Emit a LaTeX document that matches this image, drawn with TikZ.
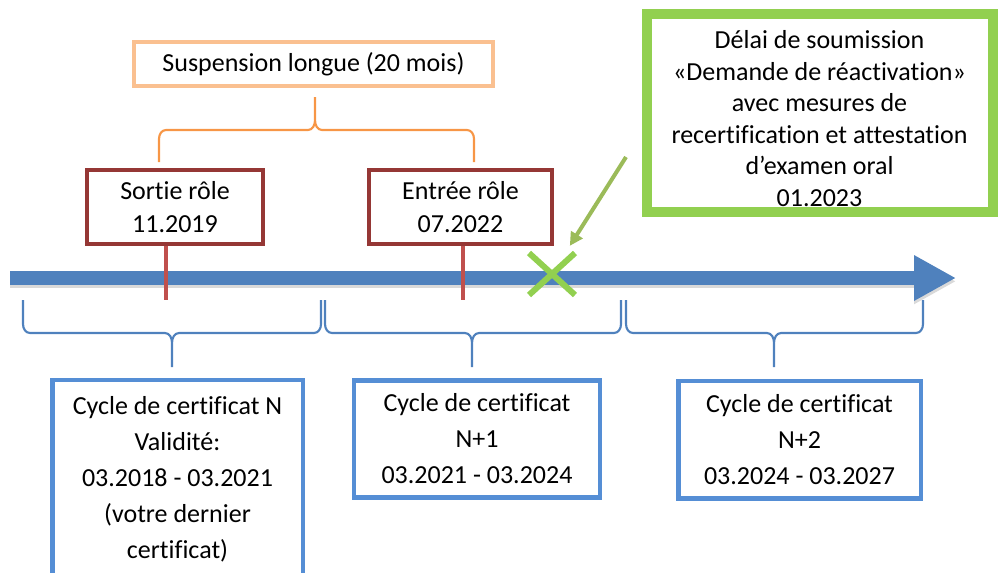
\documentclass[tikz,border=0pt]{standalone}
\usepackage{fontspec}
\setmainfont{Carlito}[Ligatures=NoCommon]
\usetikzlibrary{arrows.meta,positioning}

\definecolor{tlblue}{HTML}{4F81BD}
\definecolor{boxblue}{HTML}{558ED5}
\definecolor{tickred}{HTML}{C0504D}
\definecolor{boxred}{HTML}{953735}
\definecolor{boxorange}{HTML}{FAC090}
\definecolor{braceorange}{HTML}{F79646}
\definecolor{boxgreen}{HTML}{92D050}
\definecolor{arrowgreen}{HTML}{9BBB59}

\begin{document}
\begin{tikzpicture}[
x=0.75pt,
y=-0.75pt,
redbox/.style={
  draw=boxred,
  line width=3pt,
  align=center,
  inner sep=0pt,
  minimum height=55.5pt,
  font=\fontsize{19.5}{24.75}\selectfont
  },
bluebox/.style={
  draw=boxblue,
  line width=3.5pt,
  align=center,
  inner sep=0pt,
  font=\fontsize{19.5}{27}\selectfont
  },
orangebox/.style={
  draw=boxorange,
  line width=3pt,
  inner sep=0pt,
  minimum width=269pt,
  minimum height=33pt,
  font=\fontsize{19.5}{24}\selectfont
  },
greenbox/.style={
  draw=boxgreen,
  line width=7.5pt,
  align=center,
  inner sep=0pt,
  minimum width=259.5pt,
  minimum height=148.5pt,
  font=\fontsize{19.5}{23.7}\selectfont
  },
timeline/.style={
  draw=tlblue,
  line width=10.5pt,
  -{Triangle[length=31.5pt,width=32pt]}
  },
tickmark/.style={
  draw=tickred,
  line width=3pt
  },
crossmark/.style={
  draw=boxgreen,
  line width=4.5pt
  },
pointer/.style={
  draw=arrowgreen,
  line width=3pt,
  -{Triangle[length=10pt,width=10pt]}
  },
bluebrace/.style={
  draw=tlblue,
  line width=1.6pt
  },
orangebrace/.style={
  draw=braceorange,
  line width=1.6pt
  }
]
\useasboundingbox (0,0) rectangle (998,572);

% boxes
\node[orangebox] (suspension) at (313.5,64) {Suspension longue (20 mois)};
\node[redbox, minimum width=132pt] (sortie) at (175,207) {Sortie rôle\\11.2019};
\node[redbox, minimum width=137pt] (entree) at (460.5,207) {Entrée rôle\\07.2022};
\node[greenbox] (delai) at (819.5,112.5)
  {\rule{0pt}{22.6pt}Délai de soumission\\«Demande de réactivation»\\avec mesures de\\recertification et attestation\\d’examen oral\\01.2023};
\node[bluebox, minimum width=188pt, minimum height=148.5pt] (cycleN) at (177.5,479)
  {Cycle de certificat N\\Validité:\\03.2018 - 03.2021\\(votre dernier\\certificat)};
\node[bluebox, minimum width=184.5pt, minimum height=88pt] (cycleN1) at (477,439)
  {Cycle de certificat\\N+1\\03.2021 - 03.2024};
\node[bluebox, minimum width=182pt, minimum height=88pt] (cycleN2) at (799.5,439.5)
  {Cycle de certificat\\N+2\\03.2024 - 03.2027};

% time axis
\coordinate (tl start) at (10,278);
\coordinate (tl end) at (956,278);
\draw[timeline, draw=black, opacity=.15] ([yshift=-2.5pt]tl start) -- ([yshift=-2.5pt]tl end);
\draw[timeline] (tl start) -- (tl end);

% exit / entry marks
\coordinate (t1) at (166,300);
\coordinate (t2) at (463,300);
\draw[tickmark] (t1 |- sortie.south) -- (t1);
\draw[tickmark] (t2 |- entree.south) -- (t2);

% deadline
\coordinate (xmark) at (552,274);
\draw[crossmark] (xmark) +(-23,-21) -- +(23,21);
\draw[crossmark] (xmark) +(23,-21) -- +(-23,21);
\coordinate (ptail) at (626,157);
\draw[pointer, shorten >=25pt] (ptail) -- (xmark);

% braces
\draw[orangebrace] (159,162) -- (159,139) to[out=90,in=180] (166,130) -- (308,130)
  to[out=0,in=-90] (315,120) -- (315,97) (315,120) to[out=-90,in=180] (322,130)
  -- (467,130) to[out=0,in=90] (474,139) -- (474,162);
\foreach \l/\m/\r in {23/172/321, 325/472/621, 626/774/923}
{
  \draw[bluebrace] (\l,300) -- (\l,324) to[out=-90,in=180] (\l+7,333) -- (\m-7,333)
    to[out=0,in=90] (\m,343) -- (\m,367) (\m,343) to[out=90,in=180] (\m+7,333)
    -- (\r-7,333) to[out=0,in=-90] (\r,324) -- (\r,300);
}

\end{tikzpicture}
\end{document}
